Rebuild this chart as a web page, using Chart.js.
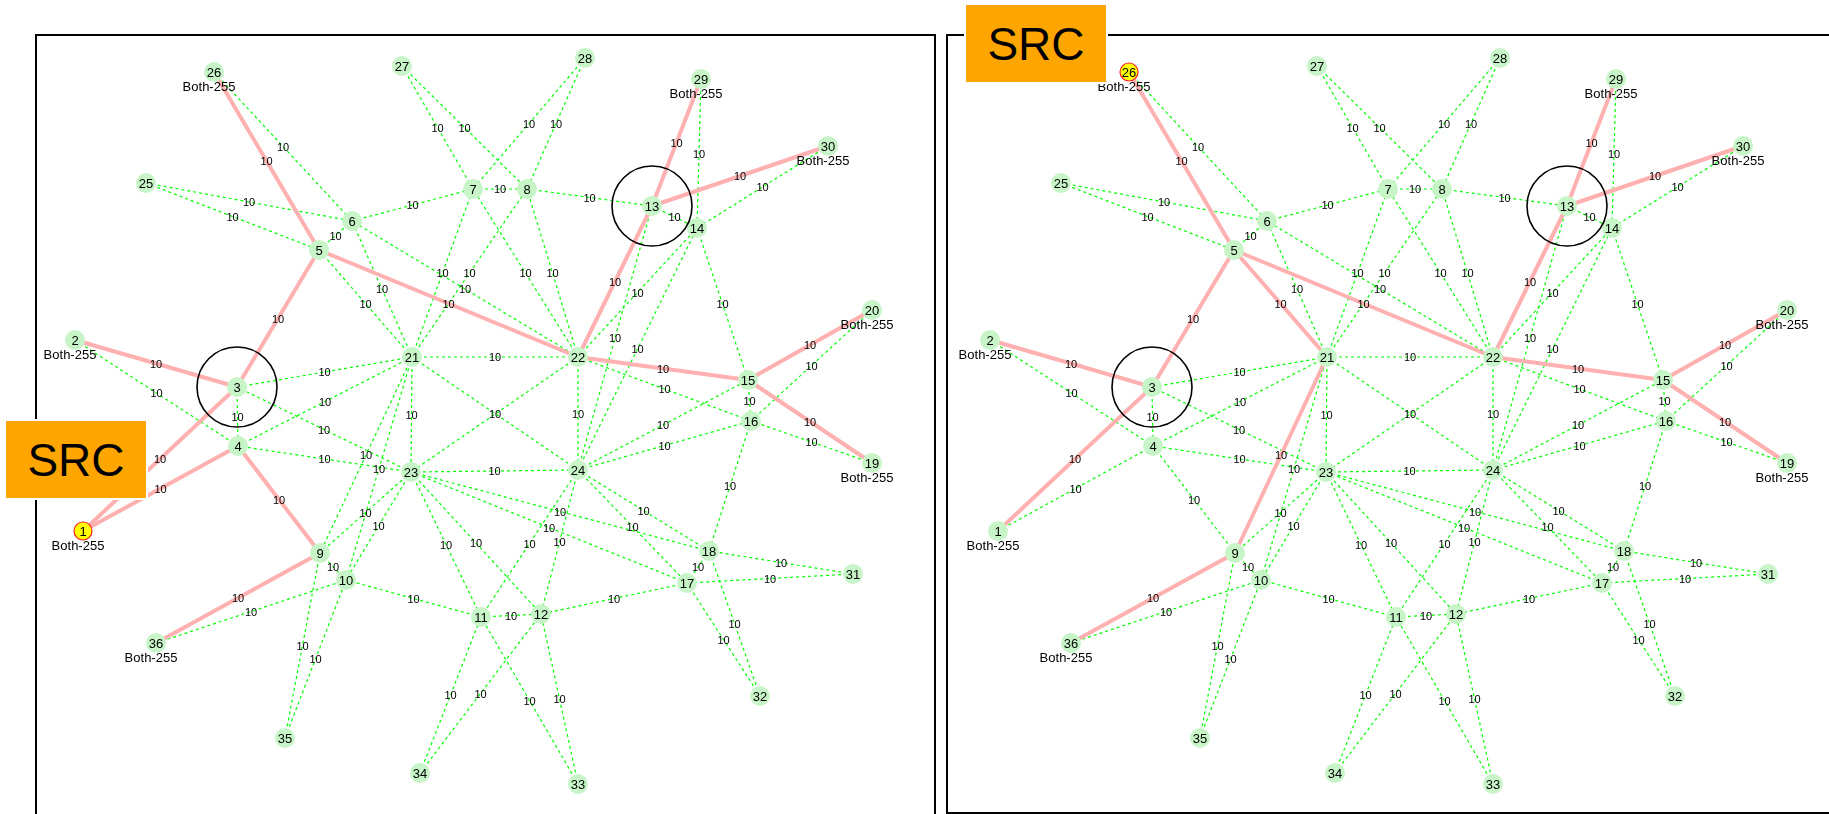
<!DOCTYPE html>
<html>
<head>
<meta charset="utf-8">
<script src="https://cdn.jsdelivr.net/npm/chart.js@4.4.1/dist/chart.umd.min.js"></script>
<style>
    html, body { margin: 0; padding: 0; background: #fff; width: 1829px; height: 814px; overflow: hidden; }
    .frame { position: absolute; box-sizing: border-box; border: 2px solid #000; }
    #frameL { left: 35px; top: 34px; width: 901px; height: 900px; }
    #frameR { left: 946px; top: 34px; width: 1000px; height: 780px; }
    canvas { position: absolute; top: 0; }
    #chartL { left: 0; }
    #chartR { left: 915px; }
    .src {
        position: absolute; width: 140px; height: 77px; background: #ffa500;
        outline: 2px solid #fff; color: #000;
        font: 46px "Liberation Sans", Arial, sans-serif;
        display: flex; align-items: center; justify-content: center;
    }
    #srcL { left: 6px; top: 421px; }
    #srcR { left: 966px; top: 5px; }
</style>
</head>
<body>
<div class="frame" id="frameL"></div>
<div class="frame" id="frameR"></div>
<canvas id="chartL" width="940" height="814"></canvas>
<canvas id="chartR" width="914" height="814"></canvas>
<div class="src" id="srcL">SRC</div>
<div class="src" id="srcR">SRC</div>
<script>
// node positions, index = node number - 1
const nodeX = [83, 75, 237, 238, 319, 352, 473, 527, 320, 346, 481, 541, 652, 697, 748, 751, 687, 709,
               872, 872, 412, 578, 411, 578, 146, 214, 402, 585, 701, 828, 853, 760, 578, 420, 285, 156];
const nodeY = [531, 340, 387, 446, 250, 221, 189, 189, 553, 580, 617, 614, 206, 228, 380, 421, 583, 551,
               463, 310, 357, 357, 472, 470, 183, 72, 66, 58, 79, 146, 574, 696, 784, 773, 738, 643];

// links: [from, to, cost]
const edges = [
    [26, 5, 10], [26, 6, 10], [25, 5, 10], [25, 6, 10], [27, 7, 10], [27, 8, 10], [28, 7, 10], [28, 8, 10],
    [29, 13, 10], [29, 14, 10], [30, 13, 10], [30, 14, 10], [20, 15, 10], [20, 16, 10], [19, 15, 10], [19, 16, 10],
    [31, 17, 10], [31, 18, 10], [32, 17, 10], [32, 18, 10], [33, 11, 10], [33, 12, 10], [34, 11, 10], [34, 12, 10],
    [35, 9, 10], [35, 10, 10], [36, 9, 10], [36, 10, 10], [1, 3, 10], [1, 4, 10], [2, 3, 10], [2, 4, 10],
    [5, 6, 10], [7, 8, 10], [13, 14, 10], [15, 16, 10], [17, 18, 10], [11, 12, 10], [9, 10, 10], [3, 4, 10],
    [6, 7, 10], [8, 13, 10], [14, 15, 10], [16, 18, 10], [17, 12, 10], [11, 10, 10], [9, 4, 10], [3, 5, 10],
    [21, 5, 10], [21, 6, 10], [21, 7, 10], [21, 8, 10], [21, 3, 10], [21, 4, 10], [21, 9, 10], [21, 10, 10],
    [22, 5, 10], [22, 6, 10], [22, 7, 10], [22, 8, 10], [22, 13, 10], [22, 14, 10], [22, 15, 10], [22, 16, 10],
    [23, 3, 10], [23, 4, 10], [23, 9, 10], [23, 10, 10], [23, 11, 10], [23, 12, 10], [23, 17, 10], [23, 18, 10],
    [24, 13, 10], [24, 14, 10], [24, 15, 10], [24, 16, 10], [24, 17, 10], [24, 18, 10], [24, 11, 10], [24, 12, 10],
    [21, 22, 10], [21, 23, 10], [21, 24, 10], [22, 23, 10], [22, 24, 10], [23, 24, 10]
];

const taggedNodes = [26, 2, 1, 36, 29, 30, 20, 19];
const tagText = 'Both-255';
const ringNodes = [3, 13];

const sourceLeft = 1;
const pathLeft = [[26, 5], [5, 22], [22, 13], [13, 29], [13, 30], [2, 3], [3, 5], [1, 3], [1, 4],
                  [4, 9], [9, 36], [22, 15], [15, 20], [15, 19]];
const sourceRight = 26;
const pathRight = [[26, 5], [5, 22], [5, 21], [22, 13], [13, 29], [13, 30], [2, 3], [3, 5], [1, 3],
                   [21, 9], [9, 36], [22, 15], [15, 20], [15, 19]];

const FONT = '"Liberation Sans", Arial, sans-serif';

function onPath(e, path) {
    return path.some(p => (p[0] === e[0] && p[1] === e[1]) || (p[0] === e[1] && p[1] === e[0]));
}

// one line dataset for many links, broken with null points
function segments(list) {
    const out = [];
    list.forEach(e => {
        out.push({ x: nodeX[e[0] - 1], y: nodeY[e[0] - 1] });
        out.push({ x: nodeX[e[1] - 1], y: nodeY[e[1] - 1] });
        out.push({ x: null, y: null });
    });
    return out;
}

const graphText = {
    id: 'graphText',
    afterDatasetsDraw(chart) {
        const ctx = chart.ctx;
        const xs = chart.scales.x, ys = chart.scales.y;
        const px = n => xs.getPixelForValue(nodeX[n - 1]);
        const py = n => ys.getPixelForValue(nodeY[n - 1]);
        ctx.save();
        ctx.fillStyle = '#000';
        ctx.textAlign = 'center';
        ctx.textBaseline = 'middle';

        // link costs at the middle of each link (crossing links share one label)
        ctx.font = '11px ' + FONT;
        const seen = new Set();
        edges.forEach(e => {
            const x = (px(e[0]) + px(e[1])) / 2;
            const y = (py(e[0]) + py(e[1])) / 2;
            const key = Math.round(x / 3) + ',' + Math.round(y / 3);
            if (seen.has(key)) return;
            seen.add(key);
            ctx.fillText(String(e[2]), x, y + 1);
        });

        // node numbers
        ctx.font = '13px ' + FONT;
        nodeX.forEach((_, i) => {
            ctx.fillText(String(i + 1), px(i + 1), py(i + 1) + 1);
        });

        // tags under border nodes
        taggedNodes.forEach(n => {
            ctx.fillText(tagText, px(n) - 5, py(n) + 15);
        });

        // rings
        ctx.strokeStyle = '#000';
        ctx.lineWidth = 1.6;
        ringNodes.forEach(n => {
            ctx.beginPath();
            ctx.arc(px(n), py(n), 40, 0, Math.PI * 2);
            ctx.stroke();
        });
        ctx.restore();
    }
};

function makeChart(id, width, source, path) {
    const ctx = document.getElementById(id).getContext('2d');
    const plain = edges.filter(e => !onPath(e, path));
    const marked = edges.filter(e => onPath(e, path));
    const isSrc = i => i + 1 === source;

    return new Chart(ctx, {
        type: 'scatter',
        data: {
            datasets: [
                {
                    label: 'nodes',
                    data: nodeX.map((x, i) => ({ x: x, y: nodeY[i] })),
                    pointRadius: nodeX.map((_, i) => isSrc(i) ? 9 : 10),
                    pointBackgroundColor: nodeX.map((_, i) => isSrc(i) ? '#ffff00' : '#c8f5c8'),
                    pointBorderColor: nodeX.map((_, i) => isSrc(i) ? '#ff2020' : 'rgba(0,0,0,0)'),
                    pointBorderWidth: nodeX.map((_, i) => isSrc(i) ? 1.2 : 0),
                    showLine: false,
                    clip: false,
                    order: 0
                },
                {
                    label: 'path',
                    data: segments(marked),
                    showLine: true,
                    spanGaps: false,
                    borderColor: '#ffb0b0',
                    borderWidth: 4,
                    pointRadius: 0,
                    clip: false,
                    order: 1
                },
                {
                    label: 'links',
                    data: segments(plain),
                    showLine: true,
                    spanGaps: false,
                    borderColor: '#00ff00',
                    borderWidth: 1.2,
                    borderDash: [3, 3],
                    pointRadius: 0,
                    clip: false,
                    order: 2
                }
            ]
        },
        options: {
            responsive: false,
            animation: false,
            events: [],
            layout: { padding: 0, autoPadding: false },
            plugins: {
                legend: { display: false },
                tooltip: { enabled: false }
            },
            scales: {
                x: { type: 'linear', min: 0, max: width, display: false },
                y: { type: 'linear', min: 0, max: 814, reverse: true, display: false }
            }
        },
        plugins: [graphText]
    });
}

makeChart('chartL', 940, sourceLeft, pathLeft);
makeChart('chartR', 914, sourceRight, pathRight);
</script>
</body>
</html>
